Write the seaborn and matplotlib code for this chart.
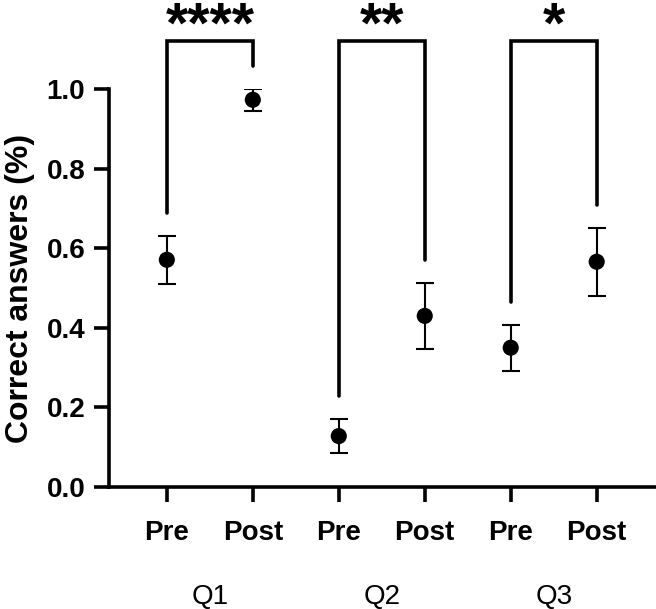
import numpy as np
import pandas as pd
import matplotlib
matplotlib.use("Agg")
import matplotlib.pyplot as plt
import seaborn as sns

# --------------------
# Data
# --------------------
questions = ["Q1", "Q2", "Q3"]
phases = ["Pre", "Post"]
means = [0.571, 0.973, 0.128, 0.430, 0.350, 0.566]
sems = [0.060, 0.027, 0.043, 0.083, 0.058, 0.086]
stars = ["****", "**", "*"]

df = pd.DataFrame({
    "question": np.repeat(questions, len(phases)),
    "phase": phases * len(questions),
    "mean": means,
    "sem": sems,
})
df["pos"] = np.arange(len(df))

# --------------------
# Style
# --------------------
sns.set_theme(style="ticks")
plt.rcParams["font.family"] = ["Liberation Sans", "DejaVu Sans"]
for key in ["text.color", "axes.labelcolor", "xtick.color", "ytick.color", "axes.edgecolor"]:
    plt.rcParams[key] = "black"
lw = 2.6

fig = plt.figure(figsize=(6.56, 6.09), dpi=100)
ax = fig.add_axes([0.166, 0.2003, 0.834, 0.6535])

ax.errorbar(df["pos"], df["mean"], yerr=df["sem"], fmt="none",
            ecolor="black", elinewidth=1.5, capsize=6.5, capthick=1.5, zorder=2)
sns.scatterplot(data=df, x="pos", y="mean", color="black", s=135,
                edgecolor="none", ax=ax, zorder=3, legend=False)

# significance brackets
top = 1.12
gap = 0.057
for i, s in enumerate(stars):
    a, b = 2 * i, 2 * i + 1
    ya = df["mean"][a] + df["sem"][a] + gap
    yb = df["mean"][b] + df["sem"][b] + gap
    ax.plot([a, a, b, b], [ya, top, top, yb], color="black", lw=lw,
            solid_joinstyle="miter", solid_capstyle="round", clip_on=False)
    ax.text((a + b) / 2, 1.117, s, ha="center", va="baseline",
            fontsize=41, fontweight="bold", clip_on=False)

# group labels under the phase ticks
for i, q in enumerate(questions):
    ax.text(2 * i + 0.5, -0.276, q, transform=ax.get_xaxis_transform(),
            ha="center", va="center", fontsize=20)

ax.set_xlim(-0.674, 5.69)
ax.set_ylim(0, 1.0)
ax.set_yticks([0.0, 0.2, 0.4, 0.6, 0.8, 1.0])
ax.set_yticklabels([f"{v:.1f}" for v in [0.0, 0.2, 0.4, 0.6, 0.8, 1.0]])
ax.set_xticks(df["pos"])
ax.set_xticklabels(df["phase"])
ax.set_xlabel("")
ax.set_ylabel("Correct answers (%)", fontsize=23, fontweight="bold", labelpad=8)

for lab in ax.get_xticklabels() + ax.get_yticklabels():
    lab.set_fontweight("bold")
ax.tick_params(axis="both", length=11, width=lw, labelsize=20, color="black")
ax.tick_params(axis="y", pad=6)
ax.tick_params(axis="x", pad=13)

sns.despine(ax=ax, top=True, right=True)
for sp in ["left", "bottom"]:
    ax.spines[sp].set_linewidth(lw)
    ax.spines[sp].set_color("black")

fig.savefig("out.png", dpi=100)
